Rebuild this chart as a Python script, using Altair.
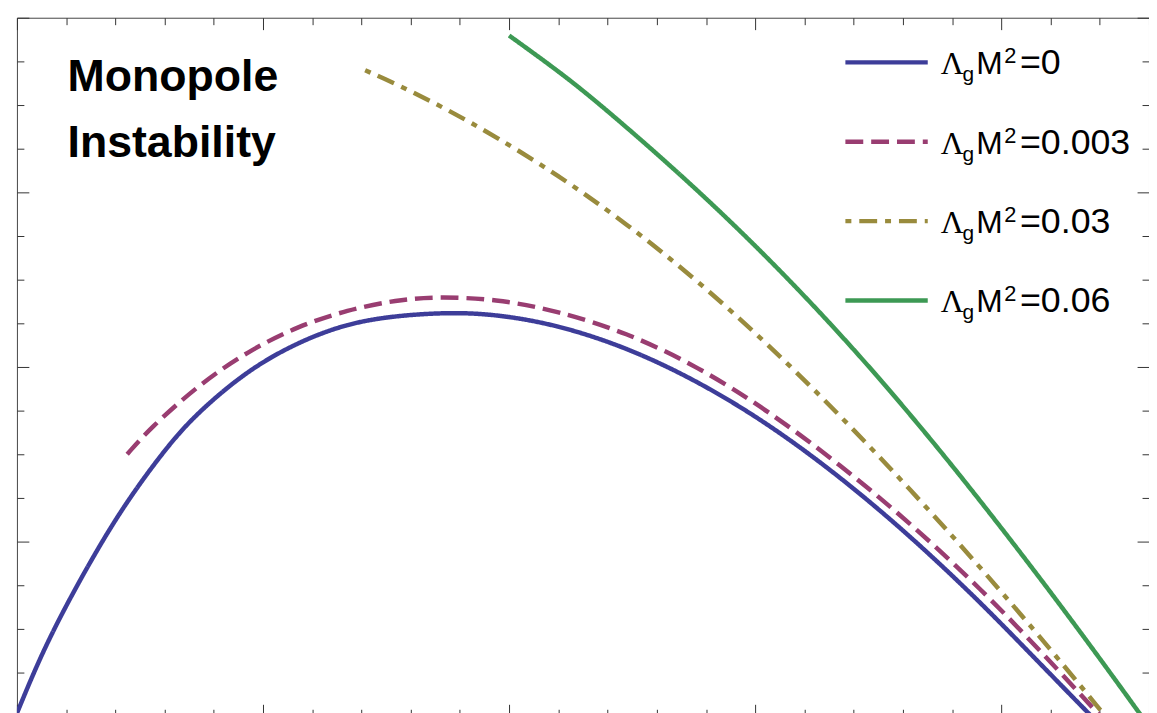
import altair as alt
import pandas as pd

# ---- data (x and y in major-tick units) ----
series = ["0", "0.003", "0.03", "0.06"]
colors = ["#3D3D99", "#993D71", "#998B3D", "#3D9954"]
dash_patterns = [[1, 0], [18, 8], [6, 8, 18, 8], [1, 0]]

x_blue = [0.000, 0.093, 0.202, 0.335, 0.456, 0.617, 0.738, 0.939, 1.141, 1.343, 1.544,
          1.766, 1.947, 2.189, 2.475, 2.766, 3.052, 3.342, 3.629, 3.919, 4.149, 4.366]
y_blue = [0.017, 0.335, 0.642, 0.977, 1.250, 1.557, 1.744, 1.983, 2.142, 2.250, 2.295,
          2.313, 2.301, 2.244, 2.114, 1.920, 1.676, 1.375, 1.034, 0.648, 0.313, 0.000]

x_magenta = [0.448, 0.536, 0.738, 0.939, 1.141, 1.343, 1.544, 1.705, 1.947, 2.189, 2.475,
             2.766, 3.052, 3.342, 3.629, 3.919, 4.177, 4.403]
y_magenta = [1.500, 1.642, 1.898, 2.091, 2.233, 2.327, 2.384, 2.403, 2.389, 2.324, 2.199,
             2.003, 1.750, 1.443, 1.108, 0.727, 0.347, 0.000]

x_gold = [1.415, 1.544, 1.746, 1.947, 2.189, 2.475, 2.766, 3.052, 3.342, 3.629, 3.919,
          4.205, 4.423]
y_gold = [3.699, 3.619, 3.477, 3.318, 3.108, 2.824, 2.494, 2.131, 1.727, 1.301, 0.847,
          0.375, 0.000]

x_green = [2.000, 2.189, 2.354, 2.721, 3.040, 3.314, 3.544, 3.770, 3.995, 4.205, 4.407,
           4.570]
y_green = [3.898, 3.706, 3.524, 3.074, 2.643, 2.238, 1.872, 1.490, 1.089, 0.702, 0.318,
           0.000]

x_ticks = [round(i * 0.2, 1) for i in range(24)]
y_ticks = [i * 0.25 for i in range(17)]
title_lines = ["Monopole", "Instability"]

rows = []
for name, xs_, ys_ in zip(series, [x_blue, x_magenta, x_gold, x_green],
                          [y_blue, y_magenta, y_gold, y_green]):
    for xv, yv in zip(xs_, ys_):
        rows.append({"series": name, "x": xv, "y": yv})
df = pd.DataFrame(rows)

W, H = 1141, 704

major_test = "abs(datum.value - round(datum.value)) < 0.001"
tick_size = {"condition": {"test": major_test, "value": 12}, "value": 7}


def frame_axis(orient, offset, values):
    return alt.Axis(orient=orient, offset=offset, values=values, labels=False,
                    domain=False, grid=False, title=None, ticks=True,
                    tickSize=tick_size, tickColor="#333333", tickWidth=1)


xsc = alt.Scale(domain=[0, 4.6], nice=False, zero=False)
ysc = alt.Scale(domain=[0, 4], nice=False, zero=False)

color = alt.Color("series:N", scale=alt.Scale(domain=series, range=colors), legend=None)
dash = alt.StrokeDash("series:N", scale=alt.Scale(domain=series, range=dash_patterns),
                      legend=None)

lines = alt.Chart(df).mark_line(strokeWidth=4.5, interpolate="basis", clip=True).encode(
    x=alt.X("x:Q", scale=xsc, axis=frame_axis("bottom", -H, x_ticks)),
    y=alt.Y("y:Q", scale=ysc, axis=frame_axis("right", -W, y_ticks)),
    color=color,
    strokeDash=dash,
    detail="series:N",
)

ghost = alt.Chart(df).mark_point(opacity=0).encode(
    x=alt.X("x:Q", scale=xsc, axis=frame_axis("top", -H, x_ticks)),
    y=alt.Y("y:Q", scale=ysc, axis=frame_axis("left", -W, y_ticks)),
)

leg = pd.DataFrame({"series": series, "idx": list(range(len(series)))})
leg_base = alt.Chart(leg).transform_calculate(
    ly="45 + 80 * datum.idx",
    ty="57 + 80 * datum.idx",
    gy="64 + 80 * datum.idx",
    sy="46 + 80 * datum.idx",
    lab="'=' + datum.series",
)

leg_lines = leg_base.mark_rule(strokeWidth=4.5).encode(
    x=alt.value(835), x2=alt.value(918),
    y=alt.Y("ly:Q", scale=None),
    color=color, strokeDash=dash,
)

txt = dict(align="left", baseline="alphabetic", color="black")
lam = leg_base.mark_text(text="Λ", font="Liberation Serif", fontSize=32, **txt).encode(
    x=alt.value(931), y=alt.Y("ty:Q", scale=None))
gsub = leg_base.mark_text(text="g", font="Liberation Sans", fontSize=21, **txt).encode(
    x=alt.value(953), y=alt.Y("gy:Q", scale=None))
mm = leg_base.mark_text(text="M", font="Liberation Sans", fontSize=32, **txt).encode(
    x=alt.value(967), y=alt.Y("ty:Q", scale=None))
sup = leg_base.mark_text(text="2", font="Liberation Sans", fontSize=22, **txt).encode(
    x=alt.value(995), y=alt.Y("sy:Q", scale=None))
eq = leg_base.mark_text(font="Liberation Sans", fontSize=36, **txt).encode(
    x=alt.value(1011), y=alt.Y("ty:Q", scale=None), text="lab:N")

tdf = pd.DataFrame({"t": title_lines, "i": [0, 1]})
title = alt.Chart(tdf).transform_calculate(ty="74 + 66 * datum.i").mark_text(
    font="Liberation Sans", fontSize=45, fontWeight="bold", **txt
).encode(x=alt.value(51), y=alt.Y("ty:Q", scale=None), text="t:N")

chart = alt.layer(lines, ghost, leg_lines, lam, gsub, mm, sup, eq, title).resolve_axis(
    x="independent", y="independent"
).properties(
    width=W, height=H,
    padding={"left": 9, "top": 7, "right": 0, "bottom": 0},
    autosize=alt.AutoSizeParams(type="none"),
    background="white",
).configure_view(stroke="#444444", strokeWidth=1)

chart.save("out.html", embed_options={"renderer": "svg", "actions": False})
